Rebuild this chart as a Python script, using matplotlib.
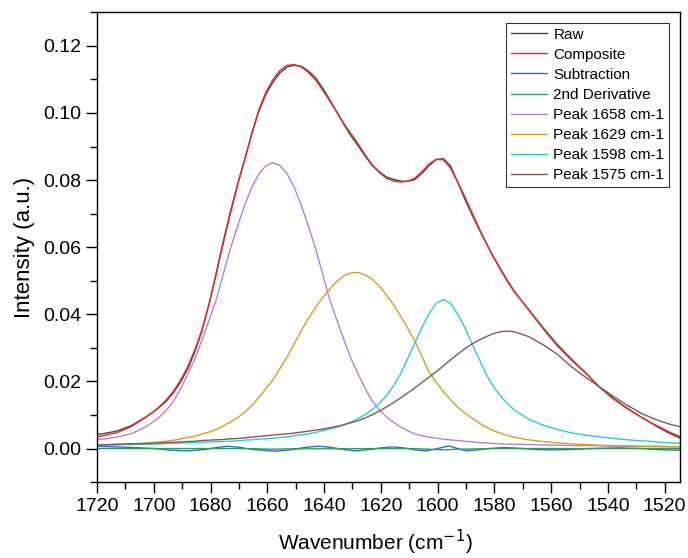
import numpy as np
import matplotlib
matplotlib.use("Agg")
import matplotlib.pyplot as plt
from matplotlib.ticker import MultipleLocator

plt.rcParams['font.family'] = ['Liberation Sans', 'DejaVu Sans']

# shared wavenumber grid (cm-1), finer where the bands are
wavenumber = [1720, 1718, 1713, 1708, 1703, 1700.5, 1698, 1695.5,
              1693, 1690.5, 1688, 1685.5, 1683, 1680.5, 1678, 1675.5, 1673, 1670.5,
              1668, 1665.5, 1663, 1660.5, 1658, 1655.5, 1653, 1650.5, 1648, 1645.5,
              1643, 1640.5, 1638, 1635.5, 1633, 1630.5, 1628, 1625.5, 1623, 1620.5,
              1618, 1615.5, 1613, 1610.5, 1608, 1605.5, 1603, 1600.5, 1598, 1595.5,
              1593, 1590.5, 1588, 1585.5, 1583, 1580.5, 1578, 1575.5, 1573,
              1568, 1563, 1558, 1553, 1548, 1543, 1538, 1533, 1528, 1523, 1518, 1513]

raw = [0.0042, 0.0044, 0.0052, 0.0068, 0.0093, 0.0107, 0.0123, 0.0142,
       0.0167, 0.0199, 0.0238, 0.0289, 0.0351, 0.0431, 0.0523, 0.0618, 0.0706, 0.0787,
       0.0861, 0.0936, 0.1005, 0.1056, 0.1092, 0.1120, 0.1137, 0.1142, 0.1139, 0.1125,
       0.1105, 0.1074, 0.1039, 0.1003, 0.0965, 0.0932, 0.0902, 0.0871, 0.0843, 0.0824,
       0.0809, 0.0802, 0.0797, 0.0796, 0.0802, 0.0820, 0.0843, 0.0861, 0.0864, 0.0843,
       0.0795, 0.0745, 0.0699, 0.0655, 0.0614, 0.0574, 0.0537, 0.0502, 0.0469,
       0.0414, 0.0359, 0.0308, 0.0265, 0.0226, 0.0184, 0.0149, 0.0119, 0.0092, 0.0067, 0.0044, 0.0025]

composite = [0.0035, 0.0038, 0.0047, 0.0065, 0.0092, 0.0107, 0.0125, 0.0146,
             0.0172, 0.0205, 0.0245, 0.0295, 0.0355, 0.0432, 0.0520, 0.0612, 0.0700, 0.0783,
             0.0860, 0.0938, 0.1010, 0.1062, 0.1100, 0.1127, 0.1142, 0.1144, 0.1137, 0.1120,
             0.1098, 0.1068, 0.1035, 0.1002, 0.0968, 0.0938, 0.0908, 0.0875, 0.0845, 0.0822,
             0.0805, 0.0797, 0.0794, 0.0797, 0.0806, 0.0826, 0.0848, 0.0862, 0.0860, 0.0836,
             0.0795, 0.0752, 0.0705, 0.0659, 0.0615, 0.0573, 0.0535, 0.0499, 0.0467,
             0.0415, 0.0362, 0.0312, 0.0268, 0.0227, 0.0183, 0.0147, 0.0118, 0.0092, 0.0069, 0.0048, 0.0030]

peak_1658 = [0.0027, 0.0028, 0.0034, 0.0044, 0.0064, 0.0078, 0.0094, 0.0115,
             0.0141, 0.0179, 0.0222, 0.0268, 0.0324, 0.0383, 0.0443, 0.0520, 0.0596, 0.0662,
             0.0724, 0.0778, 0.0818, 0.0843, 0.0852, 0.0843, 0.0818, 0.0778, 0.0724, 0.0662,
             0.0596, 0.0520, 0.0443, 0.0383, 0.0324, 0.0268, 0.0222, 0.0179, 0.0141, 0.0115,
             0.0094, 0.0078, 0.0064, 0.0053, 0.0044, 0.0038, 0.0034, 0.0031, 0.0028, 0.0026,
             0.0024, 0.0022, 0.0020, 0.0018, 0.0017, 0.0015, 0.0014, 0.0013, 0.0013,
             0.0012, 0.0011, 0.0010, 0.0009, 0.0009, 0.0008, 0.0007, 0.0007, 0.0006, 0.0006, 0.0005, 0.0005]

peak_1629 = [0.0009, 0.0010, 0.0012, 0.0014, 0.0016, 0.0018, 0.0020, 0.0022,
             0.0025, 0.0029, 0.0033, 0.0037, 0.0043, 0.0049, 0.0057, 0.0067, 0.0079, 0.0092,
             0.0108, 0.0128, 0.0152, 0.0178, 0.0205, 0.0239, 0.0273, 0.0313, 0.0352, 0.0388,
             0.0420, 0.0450, 0.0475, 0.0498, 0.0515, 0.0523, 0.0525, 0.0517, 0.0504, 0.0484,
             0.0457, 0.0428, 0.0394, 0.0358, 0.0320, 0.0274, 0.0228, 0.0198, 0.0170, 0.0146,
             0.0124, 0.0106, 0.0091, 0.0077, 0.0064, 0.0054, 0.0046, 0.0039, 0.0034,
             0.0026, 0.0021, 0.0017, 0.0014, 0.0012, 0.0010, 0.0009, 0.0008, 0.0007, 0.0007, 0.0006, 0.0006]

peak_1598 = [0.0010, 0.0010, 0.0011, 0.0012, 0.0013, 0.0013, 0.0014, 0.0015,
             0.0016, 0.0016, 0.0017, 0.0018, 0.0019, 0.0020, 0.0020, 0.0021, 0.0022, 0.0023,
             0.0025, 0.0026, 0.0028, 0.0029, 0.0031, 0.0033, 0.0035, 0.0038, 0.0041, 0.0044,
             0.0048, 0.0053, 0.0058, 0.0064, 0.0071, 0.0079, 0.0089, 0.0101, 0.0116, 0.0135,
             0.0158, 0.0188, 0.0223, 0.0269, 0.0315, 0.0362, 0.0402, 0.0433, 0.0444, 0.0433,
             0.0402, 0.0362, 0.0315, 0.0269, 0.0223, 0.0187, 0.0158, 0.0134, 0.0115,
             0.0088, 0.0070, 0.0057, 0.0047, 0.0040, 0.0035, 0.0030, 0.0026, 0.0023, 0.0020, 0.0017, 0.0015]

peak_1575 = [0.0010, 0.0011, 0.0013, 0.0014, 0.0015, 0.0016, 0.0017, 0.0018,
             0.0019, 0.0020, 0.0021, 0.0022, 0.0024, 0.0025, 0.0026, 0.0027, 0.0029, 0.0030,
             0.0032, 0.0034, 0.0036, 0.0038, 0.0040, 0.0042, 0.0044, 0.0046, 0.0049, 0.0052,
             0.0055, 0.0058, 0.0062, 0.0066, 0.0071, 0.0077, 0.0083, 0.0091, 0.0101, 0.0112,
             0.0124, 0.0137, 0.0151, 0.0166, 0.0181, 0.0197, 0.0213, 0.0229, 0.0246, 0.0264,
             0.0281, 0.0297, 0.0311, 0.0323, 0.0333, 0.0342, 0.0348, 0.0350, 0.0348,
             0.0334, 0.0310, 0.0282, 0.0245, 0.0213, 0.0184, 0.0155, 0.0128, 0.0104, 0.0086, 0.0072, 0.0062]

# residual (raw - composite) and second derivative, sampled on their own points
sub_wn = [1720, 1714, 1707, 1700, 1694, 1688, 1682, 1678, 1674, 1670, 1665, 1657, 1651,
          1647, 1642, 1638, 1633, 1629, 1624, 1620, 1616, 1612, 1608, 1604, 1600, 1596,
          1593, 1590, 1586, 1582, 1576, 1570, 1565, 1560, 1553, 1546, 1536, 1528, 1520, 1513]
subtraction = [0.0007, 0.0005, 0.0003, 0.0000, -0.0005, -0.0007, -0.0003, 0.0003, 0.0007,
               0.0004, -0.0003, -0.0008, -0.0003, 0.0003, 0.0007, 0.0004, -0.0003, -0.0007,
               -0.0003, 0.0002, 0.0005, 0.0002, -0.0004, -0.0007, 0.0000, 0.0008, 0.0000,
               -0.0007, -0.0004, 0.0000, 0.0003, 0.0000, -0.0003, -0.0004, -0.0003, 0.0000,
               0.0002, 0.0000, -0.0004, -0.0005]

deriv_wn = [1720, 1670, 1662, 1658, 1654, 1610, 1603, 1598, 1593, 1580, 1513]
deriv_2nd = [0.0, 0.0, -0.0001, -0.0002, -0.0001, 0.0, -0.0002, -0.0004, -0.0002, 0.0, 0.0]

series = [
    (wavenumber, raw, "Raw", "#454545"),
    (wavenumber, composite, "Composite", "#ee2a2a"),
    (sub_wn, subtraction, "Subtraction", "#2a6fd8"),
    (deriv_wn, deriv_2nd, "2nd Derivative", "#2aa05a"),
    (wavenumber, peak_1658, "Peak 1658 cm-1", "#b27fe6"),
    (wavenumber, peak_1629, "Peak 1629 cm-1", "#d6a01a"),
    (wavenumber, peak_1598, "Peak 1598 cm-1", "#22d0d0"),
    (wavenumber, peak_1575, "Peak 1575 cm-1", "#855858"),
]

fig = plt.figure(figsize=(6.88, 5.58), dpi=100)
ax = fig.add_axes([0.141, 0.136, 0.847, 0.842])

for x, y, name, color in series:
    ax.plot(x, y, color=color, lw=1.0, label=name)

ax.set_xlim(1720, 1514.7)
ax.set_ylim(-0.01, 0.13)
ax.xaxis.set_major_locator(MultipleLocator(20))
ax.xaxis.set_minor_locator(MultipleLocator(10))
ax.yaxis.set_major_locator(MultipleLocator(0.02))
ax.yaxis.set_minor_locator(MultipleLocator(0.01))
ax.yaxis.set_major_formatter(plt.FuncFormatter(lambda v, p: f"{v:.2f}"))

ax.tick_params(which="both", direction="out", top=False, right=False, width=1.0,
               labelsize=14)
ax.tick_params(which="major", length=8)
ax.tick_params(which="minor", length=5)
for sp in ax.spines.values():
    sp.set_linewidth(1.0)

ax.set_xlabel("Wavenumber (cm$^{-1}$)", fontsize=15)
ax.xaxis.set_label_coords(0.477, -0.097)
ax.set_ylabel("Intensity (a.u.)", fontsize=16, labelpad=6)

leg = ax.legend(loc="upper right", fontsize=11, frameon=True, fancybox=False,
                edgecolor="black", handlelength=2.4, handletextpad=0.4,
                labelspacing=0.4, borderpad=0.3, borderaxespad=0.7)
leg.get_frame().set_linewidth(0.8)

fig.savefig("out.png", dpi=100)
